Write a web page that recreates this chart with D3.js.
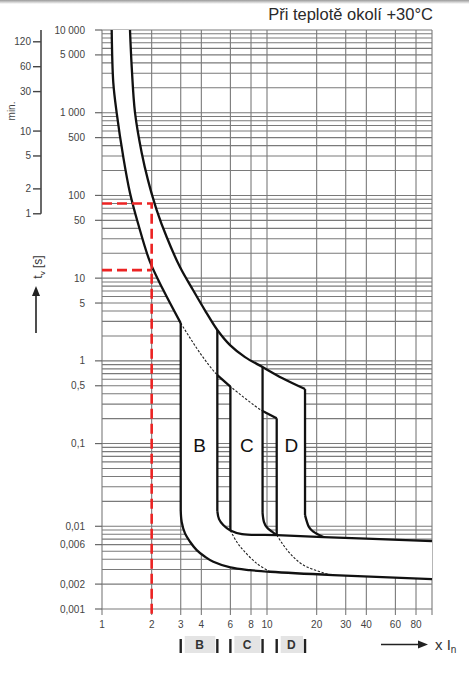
<!DOCTYPE html>
<html>
<head>
<meta charset="utf-8">
<script src="https://cdn.jsdelivr.net/npm/d3@7"></script>
<style>
  html, body { margin: 0; padding: 0; background: #fff; }
  svg { display: block; font-family: "Liberation Sans", Arial, sans-serif; }
</style>
</head>
<body>
<svg id="chart" width="469" height="676"></svg>
<script>
// ---- data ----
const title = "Při teplotě okolí +30°C";
const xTicks = [1, 2, 3, 4, 6, 8, 10, 20, 30, 40, 60, 80];
const xGrid = [1, 2, 3, 4, 6, 8, 10, 20, 30, 40, 60, 80, 100];
const yTicks = [10000, 5000, 1000, 500, 100, 50, 10, 5, 1, 0.5, 0.1, 0.01, 0.006, 0.002, 0.001];
const yTickLabels = ["10 000", "5 000", "1 000", "500", "100", "50", "10", "5", "1", "0,5", "0,1", "0,01", "0,006", "0,002", "0,001"];
const minuteTicks = [120, 60, 30, 10, 5, 2, 1];

// curves as [multiple of In, time in s]
const thermalLow = [[1.145, 10000], [1.171, 2290], [1.228, 990], [1.346, 291], [1.478, 107], [1.664, 43.9], [1.954, 15.7], [2.352, 7.18], [3, 2.86]];
const thermalLowExt = [[3, 2.86], [3.93, 1.24], [5, 0.673], [6, 0.489], [9.4, 0.247], [11.45, 0.202]];
const thermalHigh = [[1.478, 10000], [1.514, 3570], [1.585, 1000], [1.741, 326], [1.9, 153], [2.145, 66.6], [2.466, 31.4], [2.969, 13.6], [3.561, 7.18], [4.268, 3.89], [5, 2.36], [5.97, 1.55], [7.36, 1.11], [9.4, 0.841], [12.33, 0.62], [17, 0.456]];
const bottomCurve = [[3, 0.0157], [3.04, 0.0113], [3.184, 0.0082], [3.415, 0.0065], [3.75, 0.00515], [4.21, 0.00428], [4.73, 0.00372], [6, 0.00318], [7.89, 0.00295], [10.43, 0.00282], [25.1, 0.00257], [100, 0.0023]];
const middleCurve = [[5, 0.0153], [5.12, 0.0122], [5.43, 0.01035], [6, 0.0089], [7.06, 0.00805], [11.45, 0.00783], [22, 0.00741], [100, 0.00662]];
const cHighBend = [[9.4, 0.0145], [9.59, 0.01125], [10, 0.00964], [10.72, 0.00863], [11.45, 0.00783]];
const dHighBend = [[17, 0.01365], [17.48, 0.01125], [17.97, 0.00977], [19.08, 0.0086], [22, 0.00741]];
const cLowTail = [[6, 0.0089], [6.55, 0.0065], [7.18, 0.00515], [8.66, 0.00356], [10.43, 0.00282]];
const dLowTail = [[11.45, 0.00783], [12.33, 0.00627], [13.78, 0.0047], [16.6, 0.0034], [24.1, 0.00258]];

const classes = ["B", "C", "D"];
const classLow = [3, 6, 11.45];
const classHigh = [5, 9.4, 17];

const markCurrent = 2;
const markTimes = [80, 12.5];

// ---- setup ----
const svg = d3.select("#chart");
const X = d3.scaleLog().domain([1, 100]).range([102, 432]);
const Y = d3.scaleLog().domain([0.001, 10000]).range([609, 30]);
const plotL = X.range()[0], plotR = X.range()[1];
const plotT = Y.range()[1], plotB = Y.range()[0];

const smooth = d3.curveCatmullRom.alpha(0.5);
const straight = d3.curveLinear;
const gen = c => d3.line().x(d => X(d[0])).y(d => Y(d[1])).curve(c);
const rev = a => a.slice().reverse();
const at = (a, v) => a.find(p => p[0] === v);

// glue pieces into one path
function joinPath(pieces) {
  return pieces.map((p, i) => {
    const s = gen(p[1])(p[0]);
    return i ? s.replace(/^M/, "L") : s;
  }).join("") + "Z";
}

const lowTops = classLow.map(v => at(thermalLowExt, v));
const highTops = classHigh.map(v => at(thermalHigh, v));
const lowBottoms = [bottomCurve[0], at(middleCurve, classLow[1]), at(middleCurve, classLow[2])];
const highBottoms = [middleCurve[0], cHighBend[0], dHighBend[0]];

// top grey edge of the scan
const defs = svg.append("defs");
const grad = defs.append("linearGradient")
  .attr("id", "edge").attr("x1", 0).attr("x2", 0).attr("y1", 0).attr("y2", 1);
grad.append("stop").attr("offset", 0).attr("stop-color", "#9a9a9a");
grad.append("stop").attr("offset", 1).attr("stop-color", "#fff");
svg.append("rect").attr("width", 469).attr("height", 4).attr("fill", "url(#edge)");

// ---- grid ----
function drawGrid(g) {
  g.attr("stroke", "#7a7a7a").attr("stroke-width", 1.1);
  g.selectAll(".v").data(xGrid).enter().append("line")
    .attr("x1", d => X(d)).attr("x2", d => X(d))
    .attr("y1", plotT).attr("y2", plotB + 6);
  g.selectAll(".h").data(Y.ticks()).enter().append("line")
    .attr("x1", plotL).attr("x2", plotR)
    .attr("y1", d => Y(d)).attr("y2", d => Y(d));
}
drawGrid(svg.append("g"));

// white zone inside the characteristic
const envelope = joinPath([
  [thermalLow, smooth],
  [[lowTops[0], lowBottoms[0]], straight],
  [bottomCurve, smooth],
  [[bottomCurve[bottomCurve.length - 1], middleCurve[middleCurve.length - 1]], straight],
  [rev(middleCurve.filter(p => p[0] >= dHighBend[dHighBend.length - 1][0])), smooth],
  [rev(dHighBend), smooth],
  [[highBottoms[2], highTops[2]], straight],
  [rev(thermalHigh), smooth]
]);
svg.append("path").attr("d", envelope).attr("fill", "#fff");

// gaps between the bands keep the grid
const pocket1 = joinPath([
  [thermalLowExt.filter(p => p[0] >= classHigh[0] && p[0] <= classLow[1]), straight],
  [[lowTops[1], lowBottoms[1]], straight],
  [rev(middleCurve.filter(p => p[0] <= classLow[1])), smooth]
]);
const pocket2 = joinPath([
  [thermalLowExt.filter(p => p[0] >= classHigh[1] && p[0] <= classLow[2]), straight],
  [[lowTops[2], lowBottoms[2]], straight],
  [rev(cHighBend), smooth]
]);
const clip = defs.append("clipPath").attr("id", "pockets");
clip.append("path").attr("d", pocket1);
clip.append("path").attr("d", pocket2);
drawGrid(svg.append("g").attr("clip-path", "url(#pockets)"));

// ---- curves ----
const dotted = svg.append("g").attr("fill", "none").attr("stroke", "#222")
  .attr("stroke-width", 1.1).attr("stroke-dasharray", "2.4,1.6");
[thermalLowExt, cLowTail, dLowTail].forEach(c => dotted.append("path").attr("d", gen(smooth)(c)));

const solid = svg.append("g").attr("fill", "none").attr("stroke", "#111")
  .attr("stroke-width", 2.3).attr("stroke-linejoin", "round");
[thermalLow, thermalHigh, bottomCurve, middleCurve, cHighBend, dHighBend]
  .forEach(c => solid.append("path").attr("d", gen(smooth)(c)));
classes.forEach((c, i) => {
  solid.append("path").attr("d", gen(straight)([lowTops[i], lowBottoms[i]]));
  solid.append("path").attr("d", gen(straight)([highTops[i], highBottoms[i]]));
});
solid.append("path").attr("d", gen(straight)(thermalLowExt.filter(p => p[0] >= classHigh[0] && p[0] <= classLow[1])));
solid.append("path").attr("d", gen(straight)(thermalLowExt.filter(p => p[0] >= classHigh[1] && p[0] <= classLow[2])));

// class letters in the bands
svg.append("g").attr("font-size", 19).attr("fill", "#111").attr("text-anchor", "middle")
  .selectAll("text").data(classes).enter().append("text")
  .attr("x", (d, i) => (X(classLow[i]) + X(classHigh[i])) / 2 + 0.5)
  .attr("y", Y(0.079))
  .text(d => d);

// ---- red reading lines ----
const red = svg.append("g").attr("fill", "none").attr("stroke", "#ec2323")
  .attr("stroke-width", 2.6).attr("stroke-dasharray", "10,5");
red.append("path").attr("d", `M${plotL},${Y(markTimes[0])}H${X(markCurrent)}V${plotB + 5}`);
red.append("path").attr("d", `M${plotL},${Y(markTimes[1])}H${X(markCurrent)}`);

// ---- axes ----
const tickText = "#444";
const yAx = svg.append("g").attr("font-size", 10).attr("fill", tickText).attr("text-anchor", "end");
yTicks.forEach((t, i) => {
  yAx.append("line").attr("x1", plotL - 7).attr("x2", plotL).attr("y1", Y(t)).attr("y2", Y(t))
    .attr("stroke", "#666").attr("stroke-width", 1.2);
  yAx.append("text").attr("x", plotL - 17).attr("y", Y(t)).attr("dy", "0.35em").text(yTickLabels[i]);
});

const xAx = svg.append("g").attr("font-size", 10).attr("fill", tickText).attr("text-anchor", "middle");
xAx.selectAll("text").data(xTicks).enter().append("text")
  .attr("x", d => X(d)).attr("y", plotB + 19).text(d => d);

// minutes scale
const minX = 41;
const mAx = svg.append("g").attr("font-size", 10).attr("fill", tickText).attr("text-anchor", "end");
mAx.append("line").attr("x1", minX).attr("x2", minX).attr("y1", plotT).attr("y2", Y(minuteTicks[minuteTicks.length - 1] * 60))
  .attr("stroke", "#444").attr("stroke-width", 1.6);
minuteTicks.forEach(m => {
  mAx.append("line").attr("x1", minX - 8).attr("x2", minX).attr("y1", Y(m * 60)).attr("y2", Y(m * 60))
    .attr("stroke", "#444").attr("stroke-width", 1.4);
  mAx.append("text").attr("x", minX - 10).attr("y", Y(m * 60)).attr("dy", "0.35em").text(m);
});
svg.append("text").attr("transform", "translate(15,111) rotate(-90)")
  .attr("text-anchor", "middle").attr("font-size", 10).attr("fill", tickText).text("min.");

// t_v [s] with arrow
const tv = svg.append("text").attr("transform", "translate(42,267) rotate(-90)")
  .attr("text-anchor", "middle").attr("font-size", 12).attr("fill", "#333");
tv.append("tspan").text("t");
tv.append("tspan").attr("font-size", 8).attr("dy", 3).text("v");
tv.append("tspan").attr("dy", -3).text(" [s]");
svg.append("line").attr("x1", 36).attr("x2", 36).attr("y1", 333).attr("y2", 295)
  .attr("stroke", "#222").attr("stroke-width", 1.6);
svg.append("path").attr("d", "M36,286L32,296L40,296Z").attr("fill", "#222");

// title
svg.append("text").attr("x", plotR + 1).attr("y", 20).attr("text-anchor", "end")
  .attr("font-size", 16.5).attr("fill", "#2a2a2a").text(title);

// class ranges under the axis
const legend = svg.append("g");
classes.forEach((c, i) => {
  const a = X(classLow[i]), b = X(classHigh[i]);
  legend.append("rect").attr("x", a + 4).attr("y", 636).attr("width", b - a - 6).attr("height", 17)
    .attr("fill", "#e4e4e4");
  [a, b].forEach(px => legend.append("line").attr("x1", px).attr("x2", px).attr("y1", 639).attr("y2", 653)
    .attr("stroke", "#222").attr("stroke-width", 2.4));
  legend.append("text").attr("x", (a + b) / 2 + 0.5).attr("y", 649).attr("text-anchor", "middle")
    .attr("font-size", 12).attr("font-weight", "bold").attr("fill", "#333").text(c);
});

// x In arrow
svg.append("line").attr("x1", 381).attr("x2", 420).attr("y1", 644.5).attr("y2", 644.5)
  .attr("stroke", "#222").attr("stroke-width", 1.6);
svg.append("path").attr("d", "M428,644.5L418,640.5L418,648.5Z").attr("fill", "#222");
const xin = svg.append("text").attr("x", 435).attr("y", 650).attr("font-size", 15).attr("fill", "#333");
xin.append("tspan").text("x I");
xin.append("tspan").attr("font-size", 10).attr("dy", 3).text("n");
</script>
</body>
</html>
